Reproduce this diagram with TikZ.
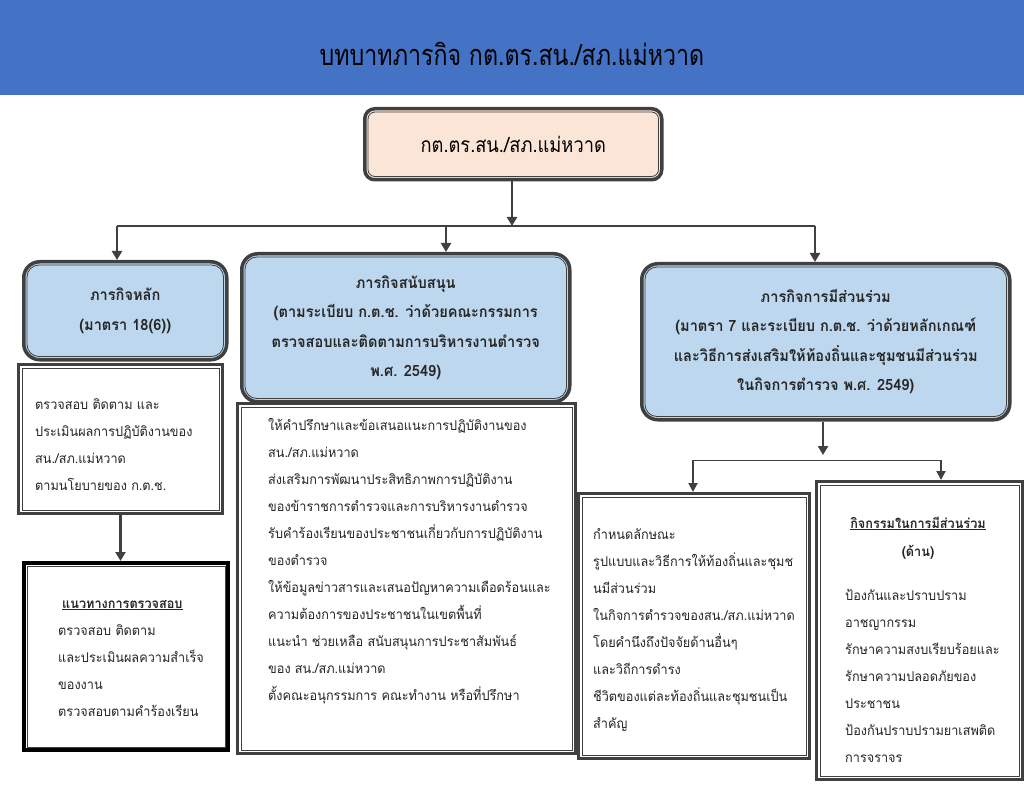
\documentclass[tikz,border=0pt]{standalone}
\usepackage{fontspec}
\setmainfont[Script=Thai]{Loma}
\newfontfamily\thai[Script=Thai, FakeStretch=0.94]{Loma}
\newfontfamily\thaititle[Script=Thai]{Loma}
\usetikzlibrary{arrows.meta}
\definecolor{barblue}{HTML}{4472C4}
\definecolor{hdrblue}{HTML}{BDD7EE}
\definecolor{peach}{HTML}{FBE5D6}
\definecolor{edge}{HTML}{404040}
\definecolor{ink}{HTML}{262626}
\newcommand\innerline[2]{\draw[edge, line width=0.8pt, rounded corners=#2]
  ([shift={(5pt,-5pt)}]#1.north west) rectangle ([shift={(-5pt,5pt)}]#1.south east);}
\begin{document}
\begin{tikzpicture}[x=1pt,y=-1pt,
  hbox/.style={draw=edge, line width=3.5pt, fill=hdrblue, rounded corners=16pt, inner sep=0pt, anchor=north west},
  tbox/.style={draw=edge, line width=3pt, fill=white, inner sep=0pt, anchor=north west},
  htext/.style={font=\thai\bfseries\fontsize{15.5}{29.5}\selectfont, text=ink, align=center},
  btext/.style={font=\thai\fontsize{13.5}{27}\selectfont, text=ink, inner sep=0pt, anchor=base west},
  bhead/.style={font=\thai\bfseries\fontsize{13.5}{27}\selectfont},
  arr/.style={draw=edge, line width=2.5pt, -{Triangle[length=9pt,width=10pt]}},
  thinarr/.style={draw=edge, line width=2pt, -{Triangle[length=9pt,width=9pt]}}]
\useasboundingbox (0,0) rectangle (1024,791);
\fill[white] (0,0) rectangle (1024,791);
% title bar
\node[fill=barblue, minimum width=1024pt, minimum height=95pt, anchor=north west, inner sep=0pt] (bar) at (0,0) {};
\node[font=\thaititle\fontsize{29}{33}\selectfont, text=black] (title) at (512,54) {\scalebox{0.8}[1]{บทบาทภารกิจ กต.ตร.สน./สภ.แม่หวาด}};
% top box
\node[draw=edge, line width=3.5pt, fill=peach, rounded corners=10pt, anchor=north west, minimum width=297pt, minimum height=71pt, inner sep=0pt] (top) at (363,107) {};
\innerline{top}{7pt}
\node[font=\thaititle\fontsize{21}{25}\selectfont, text=black] (toptext) at (top.center) {\scalebox{0.87}[1]{กต.ตร.สน./สภ.แม่หวาด}};
% header boxes
\node[hbox, minimum width=203pt, minimum height=98pt] (h1) at (22,260) {};
\innerline{h1}{12pt}
\node[htext] (h1t) at (h1.center) {ภารกิจหลัก\\(มาตรา 18(6))};
\node[hbox, minimum width=328pt, minimum height=148pt] (h2) at (240,252) {};
\innerline{h2}{12pt}
\node[htext] (h2t) at (h2.center) {ภารกิจสนับสนุน\\(ตามระเบียบ ก.ต.ช. ว่าด้วยคณะกรรมการ\\ตรวจสอบและติดตามการบริหารงานตำรวจ\\พ.ศ. 2549)};
\node[hbox, minimum width=368pt, minimum height=156pt] (h3) at (640,262) {};
\innerline{h3}{12pt}
\node[htext] (h3t) at (h3.center) {ภารกิจการมีส่วนร่วม\\(มาตรา 7 และระเบียบ ก.ต.ช. ว่าด้วยหลักเกณฑ์\\และวิธีการส่งเสริมให้ท้องถิ่นและชุมชนมีส่วนร่วม\\ในกิจการตำรวจ พ.ศ. 2549)};
% text boxes
\node[tbox, minimum width=204pt, minimum height=149pt] (lt) at (17,363) {};
\innerline{lt}{0pt}
\node[tbox, draw=black, line width=4pt, minimum width=204pt, minimum height=187pt] (lb) at (22,561) {};
\innerline{lb}{0pt}
\node[tbox, minimum width=338pt, minimum height=350pt] (mt) at (236,402) {};
\innerline{mt}{0pt}
\node[tbox, minimum width=231pt, minimum height=265pt] (r1) at (577,492) {};
\innerline{r1}{0pt}
\node[tbox, minimum width=206pt, minimum height=298pt] (r2) at (815,480) {};
\innerline{r2}{0pt}
% body texts
\foreach \t [count=\i] in {ตรวจสอบ ติดตาม และ, ประเมินผลการปฏิบัติงานของ, สน./สภ.แม่หวาด, ตามนโยบายของ ก.ต.ช.}
  \node[btext] (lt\i) at (35,{409+27*(\i-1)}) {\t};
\node[btext, bhead] (lbh) at (62,608) {\underline{แนวทางการตรวจสอบ}};
\foreach \t [count=\i] in {ตรวจสอบ ติดตาม, และประเมินผลความสำเร็จ, ของงาน, ตรวจสอบตามคำร้องเรียน}
  \node[btext] (lb\i) at (58,{635+27*(\i-1)}) {\t};
\foreach \t [count=\i] in {ให้คำปรึกษาและข้อเสนอแนะการปฏิบัติงานของ, สน./สภ.แม่หวาด, ส่งเสริมการพัฒนาประสิทธิภาพการปฏิบัติงาน, ของข้าราชการตำรวจและการบริหารงานตำรวจ, รับคำร้องเรียนของประชาชนเกี่ยวกับการปฏิบัติงาน, ของตำรวจ, ให้ข้อมูลข่าวสารและเสนอปัญหาความเดือดร้อนและ, ความต้องการของประชาชนในเขตพื้นที่, แนะนำ ช่วยเหลือ สนับสนุนการประชาสัมพันธ์, ของ สน./สภ.แม่หวาด, ตั้งคณะอนุกรรมการ คณะทำงาน หรือที่ปรึกษา}
  \node[btext] (mt\i) at (268,{430+27*(\i-1)}) {\t};
\foreach \t [count=\i] in {กำหนดลักษณะ, รูปแบบและวิธีการให้ท้องถิ่นและชุมช, นมีส่วนร่วม, ในกิจการตำรวจของสน./สภ.แม่หวาด, โดยคำนึงถึงปัจจัยด้านอื่นๆ, และวิถีการดำรง, ชีวิตของแต่ละท้องถิ่นและชุมชนเป็น, สำคัญ}
  \node[btext] (r1\i) at (593,{539+27*(\i-1)}) {\t};
\node[btext, anchor=base, bhead] (r2h) at (918,528) {\underline{กิจกรรมในการมีส่วนร่วม}};
\node[btext, anchor=base, bhead] (r2d) at (918,556) {(ด้าน)};
\foreach \t [count=\i] in {ป้องกันและปราบปราม, อาชญากรรม, รักษาความสงบเรียบร้อยและ, รักษาความปลอดภัยของ, ประชาชน, ป้องกันปราบปรามยาเสพติด, การจราจร}
  \node[btext] (r2\i) at (845,{600+27*(\i-1)}) {\t};
% connectors
\coordinate (j) at (512,226);
\coordinate (hl) at (117,226);
\coordinate (hm) at (446,226);
\coordinate (hr) at (815,226);
\draw[arr] (j |- top.south) -- (j);
\draw[draw=edge, line width=2.5pt] (hl) -- (hr);
\draw[arr] (hl) -- (hl |- h1.north);
\draw[arr] (hm) -- (hm |- h2.north);
\draw[arr] (hr) -- (hr |- h3.north);
\draw[arr] (lt.south) -- (lt.south |- lb.north);
\coordinate (rj) at (823,455);
\coordinate (rl) at (693,460);
\coordinate (rr) at (941,460);
\draw[arr] (h3.south -| rj) -- (rj);
\draw[draw=edge, line width=1pt] (rl) -- (rr);
\draw[thinarr] (rl) -- (rl |- r1.north);
\draw[thinarr] (rr) -- (rr |- r2.north);
\end{tikzpicture}
\end{document}
